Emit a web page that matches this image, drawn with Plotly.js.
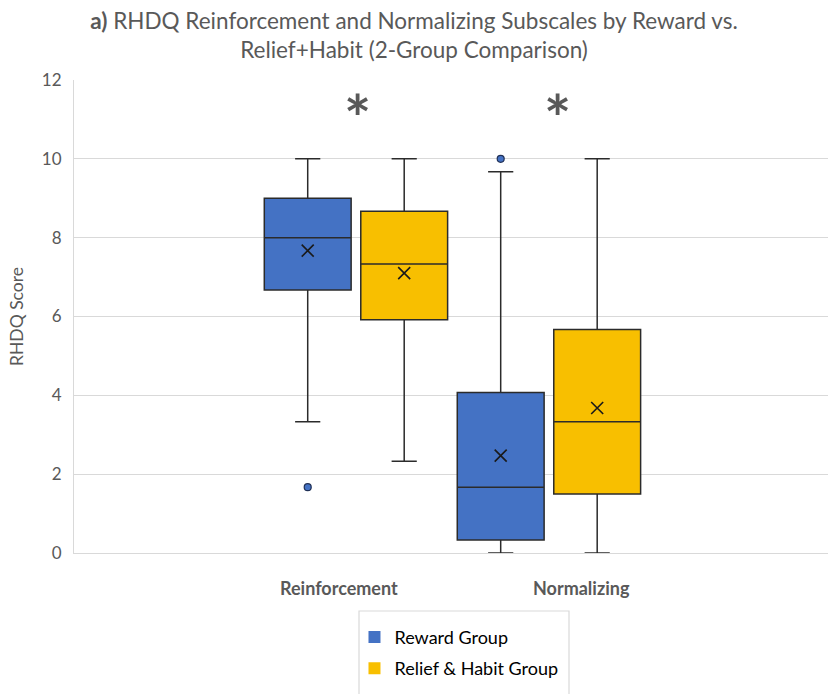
<!DOCTYPE html>
<html>
<head>
<meta charset="utf-8">
<script src="https://cdn.plot.ly/plotly-3.0.1.min.js"></script>
<style>
  html, body { margin: 0; padding: 0; background: #ffffff; }
  #chart { width: 828px; height: 694px; }
</style>
</head>
<body>
<div id="chart"></div>
<script>
// RHDQ subscales: five-number summaries per group
const categories = ['Reinforcement', 'Normalizing'];
const groupNames = ['Reward Group', 'Relief & Habit Group'];

const rewardLower  = [3.33, 0];
const rewardQ1     = [6.67, 0.33];
const rewardMedian = [8.0, 1.67];
const rewardQ3     = [9.0, 4.07];
const rewardUpper  = [10.0, 9.67];
const rewardMean   = [7.67, 2.47];
const rewardOutliers = [[1.67], [10.0]];

const reliefLower  = [2.33, 0];
const reliefQ1     = [5.92, 1.5];
const reliefMedian = [7.33, 3.33];
const reliefQ3     = [8.67, 5.67];
const reliefUpper  = [10.0, 10.0];
const reliefMean   = [7.1, 3.68];
const reliefOutliers = [[], []];

const significance = ['*', '*'];

// styling
const colors = ['#4472C4', '#F8BF00'];
const edge = '#2b2b2b';
const grey = '#595959';
const font = 'Lato, "Open Sans", sans-serif';

const groupOffset = 0.25;   // box centre offset from category centre
const boxWidth = 0.45;

const groups = [
  {lower: rewardLower, q1: rewardQ1, med: rewardMedian, q3: rewardQ3, upper: rewardUpper, mean: rewardMean, out: rewardOutliers},
  {lower: reliefLower, q1: reliefQ1, med: reliefMedian, q3: reliefQ3, upper: reliefUpper, mean: reliefMean, out: reliefOutliers}
];

const traces = [];
groups.forEach((g, gi) => {
  const off = gi === 0 ? -groupOffset : groupOffset;
  const xs = categories.map((c, ci) => ci + off);
  traces.push({
    type: 'box',
    x: xs,
    lowerfence: g.lower, q1: g.q1, median: g.med, q3: g.q3, upperfence: g.upper,
    width: boxWidth,
    whiskerwidth: 0.29,
    fillcolor: colors[gi],
    line: {color: edge, width: 1.5},
    showlegend: false,
    hoverinfo: 'skip'
  });
  // mean markers
  traces.push({
    type: 'scatter', mode: 'markers',
    x: xs, y: g.mean,
    marker: {symbol: 'x-thin', size: 12, line: {color: '#1a1a1a', width: 1.6}},
    showlegend: false, hoverinfo: 'skip'
  });
  // outliers
  const ox = [], oy = [];
  g.out.forEach((vals, ci) => vals.forEach(v => { ox.push(ci + off); oy.push(v); }));
  traces.push({
    type: 'scatter', mode: 'markers',
    x: ox, y: oy,
    marker: {symbol: 'circle', size: 7, color: colors[gi], line: {color: '#1f2f55', width: 1.2}},
    showlegend: false, hoverinfo: 'skip'
  });
});

// legend entries as filled squares
groupNames.forEach((name, gi) => {
  traces.push({
    type: 'scatter', mode: 'markers',
    x: [null], y: [null],
    name: name,
    legendgroup: 'g' + gi,
    marker: {symbol: 'square', size: 12, color: colors[gi]},
    showlegend: true
  });
});

// category labels (drawn as annotations under the axis)
const labelShift = [-17, 33];
const annotations = categories.map((c, ci) => ({
  x: ci, xref: 'x', y: 0, yref: 'paper',
  yanchor: 'top', yshift: -22, xshift: labelShift[ci],
  text: '<b>' + c + '</b>', showarrow: false,
  font: {family: font, size: 18, color: grey}
}));
const starShift = [2, 9];
significance.forEach((s, ci) => annotations.push({
  x: ci, xref: 'x', y: 11.05, yref: 'y',
  xshift: starShift[ci], yanchor: 'middle',
  text: '<b>' + s + '</b>', showarrow: false,
  font: {family: font, size: 64, color: grey}
}));

const layout = {
  width: 828, height: 694,
  margin: {l: 74, r: 0, t: 80, b: 141},
  paper_bgcolor: '#ffffff', plot_bgcolor: '#ffffff',
  font: {family: font, color: grey},
  title: {
    text: '<b>a)</b> RHDQ Reinforcement and Normalizing Subscales by Reward vs.<br>Relief+Habit (2-Group Comparison)',
    font: {family: font, size: 22.5, color: grey},
    x: 0.5, xanchor: 'center', xref: 'container',
    y: 0.958, yanchor: 'top', yref: 'container'
  },
  boxmode: 'overlay',
  xaxis: {
    type: 'linear', range: [-1.461, 2.446],
    showgrid: false, zeroline: false, showticklabels: false, ticks: '',
    showline: true, linecolor: '#d9d9d9', linewidth: 1
  },
  yaxis: {
    range: [0, 12], dtick: 2, tick0: 0,
    showgrid: true, gridcolor: '#d9d9d9', gridwidth: 1,
    zeroline: false, showline: true, linecolor: '#d9d9d9', linewidth: 1,
    ticks: '', ticklabelstandoff: 8,
    tickfont: {family: font, size: 17, color: grey},
    title: {text: 'RHDQ Score', font: {family: font, size: 17.5, color: grey}, standoff: 13}
  },
  legend: {
    x: 0.372, xanchor: 'left', y: -0.139, yanchor: 'top',
    bgcolor: 'rgba(0,0,0,0)', borderwidth: 0,
    traceorder: 'grouped', tracegroupgap: 5,
    font: {family: font, size: 18, color: '#000000'}
  },
  shapes: [{
    type: 'rect', xref: 'paper', yref: 'paper',
    x0: 0.378, x1: 0.6565, y0: -0.1226, y1: -0.32,
    line: {color: '#d9d9d9', width: 1.2}, fillcolor: 'rgba(0,0,0,0)'
  }],
  annotations: annotations
};

Plotly.newPlot('chart', traces, layout, {displayModeBar: false, staticPlot: true});
</script>
</body>
</html>
